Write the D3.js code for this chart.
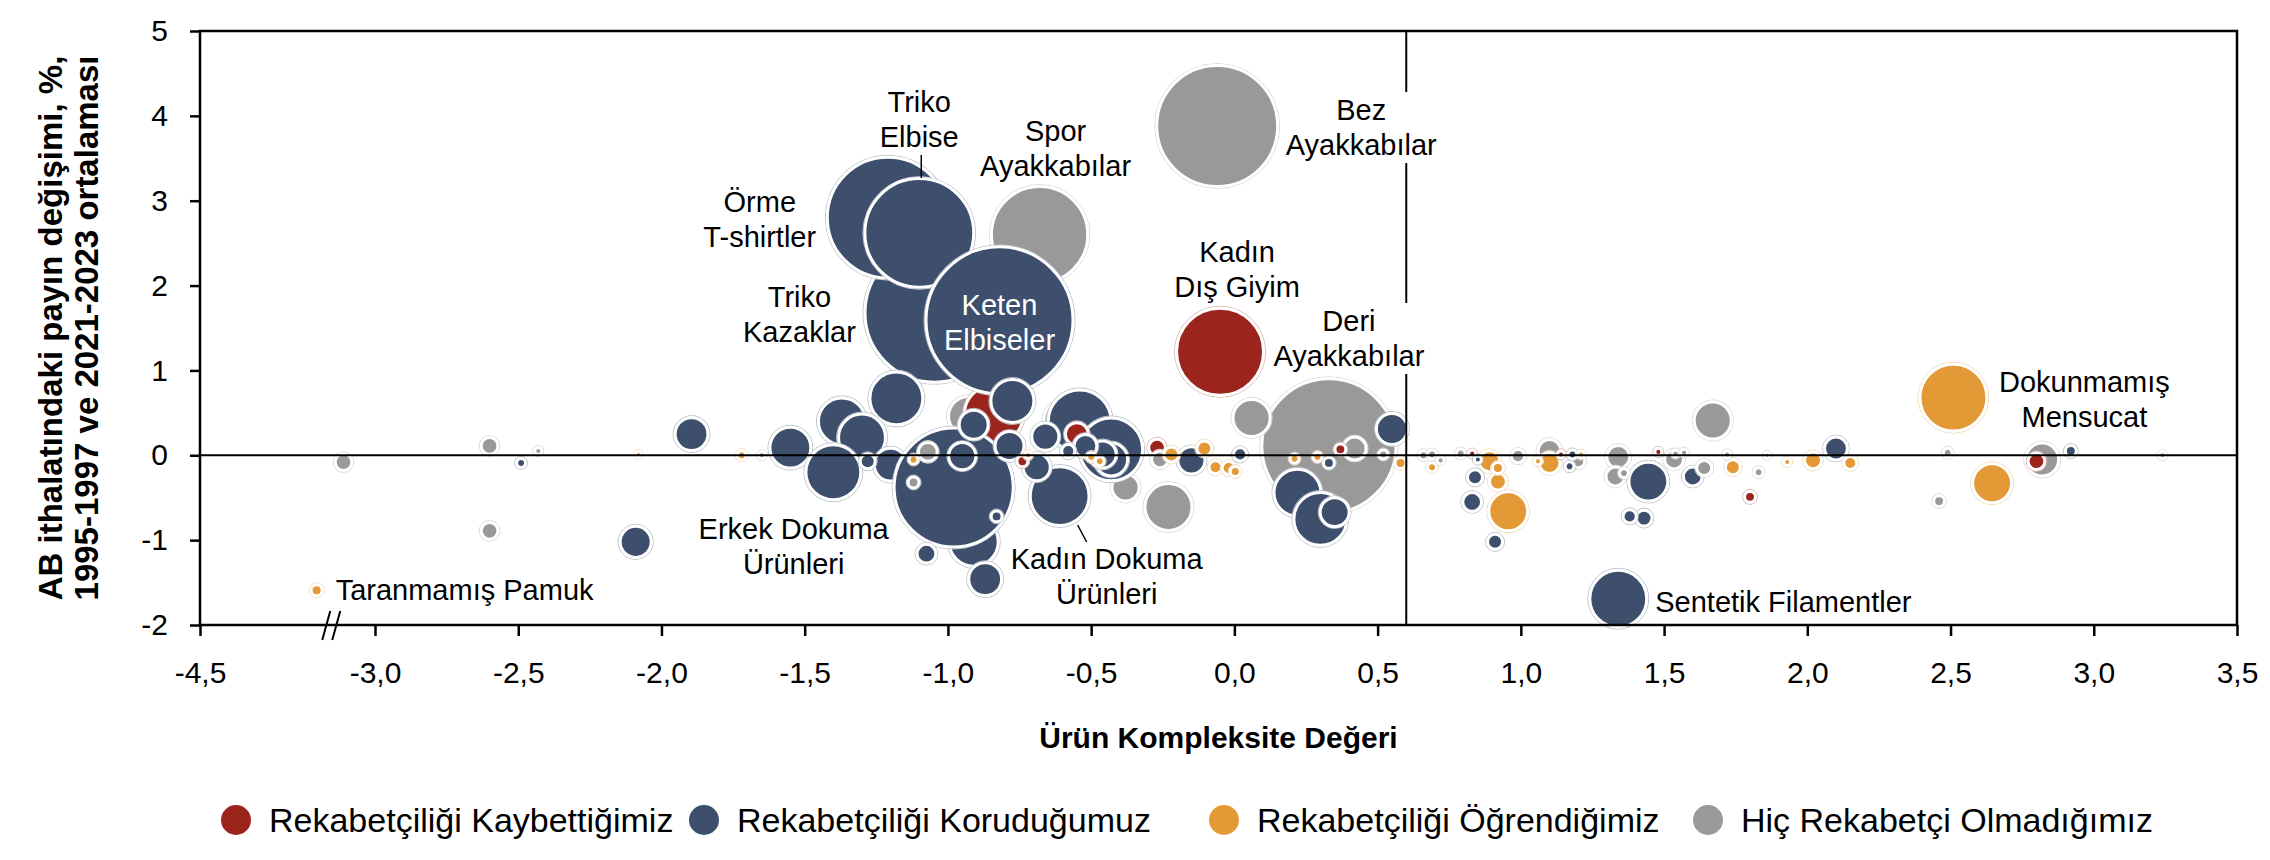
<!DOCTYPE html>
<html>
<head>
<meta charset="utf-8">
<script src="https://cdn.jsdelivr.net/npm/d3@7"></script>
<style>
  body { margin: 0; background: #fff; }
  text { font-family: "Liberation Sans", Arial, Helvetica, sans-serif; }
</style>
</head>
<body>
<div id="chart"></div>
<script>
// Categories (legend order)
var categories = [
  "Rekabetçiliği Kaybettiğimiz",
  "Rekabetçiliği Koruduğumuz",
  "Rekabetçiliği Öğrendiğimiz",
  "Hiç Rekabetçi Olmadığımız"
];

// Tick values
var xTicks = [-4.5, -3.0, -2.5, -2.0, -1.5, -1.0, -0.5, 0.0, 0.5, 1.0, 1.5, 2.0, 2.5, 3.0, 3.5];
var yTicks = [-2, -1, 0, 1, 2, 3, 4, 5];

// Threshold line on the complexity axis
var complexityCut = 0.6;

// Rekabetçiliği Kaybettiğimiz (x = complexity, y = share change, size = trade volume)
var lostX = [-0.05, -0.84, -0.55, -0.27, -0.74, 0.37, 2.80, 1.80, 0.83, 1.14, 1.48];
var lostY = [1.22, 0.48, 0.25, 0.09, -0.07, 0.07, -0.07, -0.49, 0.02, 0.01, 0.04];
var lostSize = [34, 15, 1.9, 0.9, 0.3, 0.3, 0.9, 0.3, 0.08, 0.08, 0.08];

// Rekabetçiliği Koruduğumuz
var keptX = [-1.047, -1.21, -1.10, -1.18, -0.82, -1.37, -1.30, -1.55, -1.40, -1.20,
  -0.91, -0.87, -0.98, -1.895, -2.09, -0.775, -0.54, -0.43, -0.61, -0.91,
  -0.785, -0.69, -0.66, -0.43, -0.52, -0.46, -0.95, -0.15, 1.34, 0.55,
  0.22, 0.30, 0.35, 1.445, 0.84, 0.83, 0.91, 1.38, 1.43, 1.60,
  2.10, 2.92, -1.28, -1.075, -0.83, -0.58, 0.02, 0.33, -2.49, 1.17,
  1.18, 0.85];
var keptY = [1.68, 2.80, 2.62, 0.67, 1.59, 0.40, 0.21, 0.09, -0.20, -0.11,
  -1.02, -1.46, -0.38, 0.25, -1.02, 0.64, 0.40, 0.07, -0.48, 0.36,
  0.11, -0.14, 0.22, -0.05, 0.11, 0.01, -0.01, -0.06, -1.69, 0.31,
  -0.44, -0.75, -0.67, -0.31, -0.26, -0.55, -1.02, -0.72, -0.74, -0.25,
  0.08, 0.05, -0.07, -1.16, -0.72, 0.05, 0.01, -0.09, -0.09, -0.13,
  0.01, -0.05];
var keptSize = [89, 67, 54, 12, 100, 9.3, 9.3, 6.9, 13, 4.3,
  10.2, 4.3, 65, 4.3, 3.8, 7.7, 17.3, 17.3, 15, 3.25,
  3.25, 2.8, 2.8, 4.3, 1.9, 2.8, 2.8, 2.8, 14, 3.8,
  9.3, 12, 3.25, 6.2, 0.7, 1.2, 0.7, 0.5, 0.8, 1.2,
  1.9, 0.3, 0.7, 1.2, 0.3, 0.5, 0.5, 0.3, 0.17, 0.17,
  0.17, 0.08];

// Rekabetçiliği Öğrendiğimiz
var learnedX = [2.51, 2.645, 0.956, 0.89, 0.92, 0.92, 1.10, 1.06, 1.74, 1.93,
  2.02, 2.15, -0.22, -0.105, -0.066, -0.02, 0.003, 0.21, 0.29, 0.58,
  -1.12, -0.72, -0.50, -0.47, -2.08, -1.72, -3.50, 0.69, 1.21];
var learnedY = [0.68, -0.33, -0.66, -0.07, -0.31, -0.15, -0.09, -0.07, -0.14, -0.08,
  -0.06, -0.09, 0.01, 0.08, -0.14, -0.15, -0.19, -0.04, -0.02, -0.09,
  -0.05, 0.0, -0.02, -0.07, 0.01, 0.0, -1.59, -0.14, 0.01];
var learnedSize = [19.7, 6.2, 6.2, 1.56, 0.94, 0.31, 1.56, 0.08, 0.69, 0.08,
  0.94, 0.48, 0.69, 0.69, 0.48, 0.48, 0.24, 0.17, 0.17, 0.31,
  0.17, 0.08, 0.17, 0.17, 0.04, 0.17, 0.31, 0.17, 0.08];

// Hiç Rekabetçi Olmadığımız
var neverX = [-0.06, -0.68, 0.33, 0.06, -0.93, -0.60, -0.23, -0.38, 1.67, 2.82,
  1.34, 1.10, 1.33, 1.535, 1.64, 0.42, -1.07, -1.12, -0.26, -3.27,
  -2.60, -2.60, -2.43, -1.65, 0.99, 0.79, 0.72, 1.20, 1.36, 1.54,
  1.57, 1.83, 2.46, 2.49, 3.24, 0.52, 0.66, 0.69, 1.72, 1.86];
var neverY = [3.88, 2.60, 0.11, 0.44, 0.46, 0.42, -0.61, -0.38, 0.41, -0.05,
  -0.02, 0.05, -0.25, -0.05, -0.15, 0.08, 0.04, -0.32, -0.05, -0.08,
  0.11, -0.89, 0.05, 0.0, -0.01, 0.02, -0.06, -0.07, -0.21, 0.02,
  0.03, -0.20, -0.54, 0.03, 0.0, 0.01, 0.0, 0.01, 0.01, 0.0];
var neverSize = [67, 42, 83, 5.6, 6.2, 5.6, 9.3, 2.8, 5.6, 4.3,
  1.9, 1.9, 1.2, 1.2, 0.7, 1.9, 1.2, 0.3, 0.9, 0.9,
  0.9, 0.9, 0.08, 0.08, 0.5, 0.17, 0.08, 0.5, 0.17, 0.08,
  0.08, 0.17, 0.3, 0.17, 0.08, 0.17, 0.17, 0.17, 0.08, 0.04];

// Labelled products: text, series, index in series
var labelText = ["Örme\nT-shirtler", "Triko\nElbise", "Spor\nAyakkabılar", "Triko\nKazaklar",
  "Keten\nElbiseler", "Bez\nAyakkabılar", "Kadın\nDış Giyim", "Deri\nAyakkabılar",
  "Erkek Dokuma\nÜrünleri", "Kadın Dokuma\nÜrünleri", "Sentetik Filamentler",
  "Dokunmamış\nMensucat", "Taranmamış Pamuk"];
var labelSeries = [1, 1, 3, 1, 1, 3, 0, 3, 1, 1, 1, 2, 2];
var labelIndex = [1, 2, 1, 0, 4, 0, 0, 2, 12, 18, 28, 0, 26];

// Label placement (pixels relative to bubble centre)
var labelLayout = [
  { dx: -128, dy: -16 },
  { dx: 0, dy: -131, leader: [2, -78, 2, -55] },
  { dx: 16, dy: -104 },
  { dx: -135, dy: -16 },
  { dx: 0, dy: -15, color: "#fff" },
  { dx: 144, dy: -16 },
  { dx: 17, dy: -100 },
  { dx: 20, dy: -125 },
  { dx: -160, dy: 41 },
  { dx: 47, dy: 63, leader: [18, 29, 27, 46] },
  { dx: 37, dy: 3, anchor: "start" },
  { dx: 131, dy: -16 },
  { dx: 19, dy: 0, anchor: "start" }
];

// Chart size
var width = 2270;
var height = 860;
var plot = { left: 200, right: 2237, top: 31, bottom: 625 };

var colors = ["#9b241d", "#3d4f6c", "#e39a36", "#999999"];
var seriesX = [lostX, keptX, learnedX, neverX];
var seriesY = [lostY, keptY, learnedY, neverY];
var seriesSize = [lostSize, keptSize, learnedSize, neverSize];

var svg = d3.select("#chart")
  .append("svg")
  .attr("width", width)
  .attr("height", height);

// Broken x axis: -4,5 .. -3,0 is compressed
var xScale = d3.scaleLinear()
  .domain([-4.5, -3.0, 3.5])
  .range([plot.left, 375, plot.right]);

var yScale = d3.scaleLinear()
  .domain([-2, 5])
  .range([plot.bottom, plot.top]);

var rScale = d3.scaleSqrt()
  .domain([0, 100])
  .range([0, 72]);

// Build bubble list
var bubbles = [];
seriesX.forEach(function (xs, s) {
  xs.forEach(function (v, i) {
    bubbles.push({ s: s, i: i, x: v, y: seriesY[s][i], size: seriesSize[s][i] });
  });
});

// Draw order: larger bubbles by series, then small ones on top
var seriesOrder = [3, 0, 1, 2];
var big = bubbles.filter(function (d) { return d.size > 2; })
  .sort(function (a, b) {
    return seriesOrder.indexOf(a.s) - seriesOrder.indexOf(b.s) || a.i - b.i;
  });
var small = bubbles.filter(function (d) { return d.size <= 2; })
  .sort(function (a, b) { return b.size - a.size; });
var ordered = big.concat(small);

var bubbleGroup = svg.append("g");

var nodes = bubbleGroup.selectAll("g.bubble")
  .data(ordered)
  .enter().append("g")
  .attr("class", "bubble")
  .attr("transform", function (d) {
    return "translate(" + xScale(d.x) + "," + yScale(d.y) + ")";
  });

nodes.append("circle")
  .attr("r", function (d) { return rScale(d.size) + 3.5; })
  .attr("fill", "none")
  .attr("stroke", function (d) { return d3.interpolateRgb(colors[d.s], "#fff")(0.65); })
  .attr("stroke-width", 1);

nodes.append("circle")
  .attr("r", function (d) { return rScale(d.size) + 1.5; })
  .attr("fill", function (d) { return colors[d.s]; })
  .attr("stroke", "#fff")
  .attr("stroke-width", 3);

// Zero line
svg.append("line")
  .attr("x1", plot.left).attr("x2", plot.right)
  .attr("y1", yScale(0)).attr("y2", yScale(0))
  .attr("stroke", "#000").attr("stroke-width", 2);

// Vertical threshold line
svg.append("line")
  .attr("x1", xScale(complexityCut)).attr("x2", xScale(complexityCut))
  .attr("y1", plot.top).attr("y2", plot.bottom)
  .attr("stroke", "#000").attr("stroke-width", 2);

// Labels
var labelGroup = svg.append("g");
labelText.forEach(function (t, k) {
  var s = labelSeries[k], i = labelIndex[k], lay = labelLayout[k];
  var cx = xScale(seriesX[s][i]), cy = yScale(seriesY[s][i]);
  var lines = t.split("\n");
  var txt = labelGroup.append("text")
    .attr("font-size", 29)
    .attr("fill", lay.color || "#000")
    .attr("text-anchor", lay.anchor || "middle");
  lines.forEach(function (ln, j) {
    txt.append("tspan")
      .attr("x", cx + lay.dx)
      .attr("y", cy + lay.dy + j * 35 + 10)
      .text(ln);
  });
  // Break the threshold line behind labels that cross it
  var bb = txt.node().getBBox();
  var lx = xScale(complexityCut);
  if (bb.x < lx && bb.x + bb.width > lx) {
    labelGroup.insert("rect", "text")
      .attr("x", lx - 6).attr("width", 12)
      .attr("y", bb.y - 2).attr("height", bb.height + 4)
      .attr("fill", "#fff");
  }
  if (lay.leader) {
    labelGroup.append("line")
      .attr("x1", cx + lay.leader[0]).attr("y1", cy + lay.leader[1])
      .attr("x2", cx + lay.leader[2]).attr("y2", cy + lay.leader[3])
      .attr("stroke", "#000").attr("stroke-width", 1.5);
  }
});

// Axes
var xAxis = svg.append("g")
  .attr("transform", "translate(0," + plot.bottom + ")")
  .call(d3.axisBottom(xScale)
    .tickValues(xTicks)
    .tickSize(11)
    .tickSizeOuter(0)
    .tickPadding(26)
    .tickFormat(function (d) { return d.toFixed(1).replace(".", ","); }));

var yAxis = svg.append("g")
  .attr("transform", "translate(" + plot.left + ",0)")
  .call(d3.axisLeft(yScale)
    .tickValues(yTicks)
    .tickSize(10)
    .tickSizeOuter(0)
    .tickPadding(22)
    .tickFormat(function (d) { return String(d); }));

[xAxis, yAxis].forEach(function (ax) {
  ax.select(".domain").remove();
  ax.selectAll(".tick line").attr("stroke", "#000").attr("stroke-width", 2.5);
  ax.selectAll(".tick text")
    .attr("font-family", "Liberation Sans, Arial, sans-serif")
    .attr("font-size", 30)
    .attr("fill", "#000");
});

// Frame
svg.append("rect")
  .attr("x", plot.left).attr("y", plot.top)
  .attr("width", plot.right - plot.left)
  .attr("height", plot.bottom - plot.top)
  .attr("fill", "none")
  .attr("stroke", "#000")
  .attr("stroke-width", 2.5);

// Axis break marks
var breakX = xScale(-3.375);
[-5, 5].forEach(function (off) {
  svg.append("line")
    .attr("x1", breakX + off - 4).attr("y1", plot.bottom + 15)
    .attr("x2", breakX + off + 4).attr("y2", plot.bottom - 14)
    .attr("stroke", "#000").attr("stroke-width", 2);
});

// Axis titles
svg.append("text")
  .attr("x", (plot.left + plot.right) / 2)
  .attr("y", 748)
  .attr("text-anchor", "middle")
  .attr("font-size", 30)
  .attr("font-weight", "bold")
  .text("Ürün Kompleksite Değeri");

var yTitle = ["AB ithalatındaki payın değişimi, %,", "1995-1997 ve 2021-2023 ortalaması"];
yTitle.forEach(function (t, j) {
  svg.append("text")
    .attr("transform", "translate(" + (62 + j * 36) + "," + ((plot.top + plot.bottom) / 2) + ") rotate(-90)")
    .attr("text-anchor", "middle")
    .attr("font-size", 33)
    .attr("font-weight", "bold")
    .text(t);
});

// Legend
var legendX = [236, 704, 1224, 1708];
var legend = svg.append("g").attr("transform", "translate(0,820)");
categories.forEach(function (c, k) {
  legend.append("circle")
    .attr("cx", legendX[k]).attr("cy", 0).attr("r", 15)
    .attr("fill", colors[k]);
  legend.append("text")
    .attr("x", legendX[k] + 33).attr("y", 12)
    .attr("font-size", 34)
    .text(c);
});
</script>
</body>
</html>
